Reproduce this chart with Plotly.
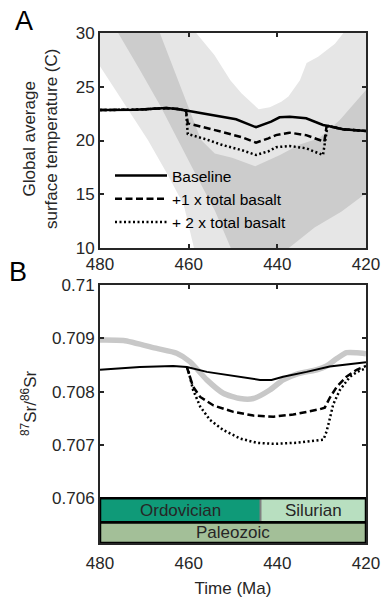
import plotly.graph_objects as go

# ---------------- Panel A data ----------------
# light grey envelope (upper / lower bounds), temperature in C
light_up_t = [480, 470, 462, 458.3, 454.2, 450.6, 448.1, 444.2, 441.7, 439.1, 437.5, 434.9, 433.4, 430.8, 427.0, 425.1, 420]
light_up_T = [45, 38, 32.5, 30.0, 27.95, 25.6, 24.4, 22.9, 23.1, 23.6, 24.1, 25.6, 27.2, 27.8, 29.0, 30.0, 33.0]
light_lo_t = [480, 474.4, 469.2, 464.7, 461.1, 458.8, 455, 440, 420]
light_lo_T = [26.9, 23.3, 20.05, 16.8, 14.0, 10.0, 5.0, 4.0, 4.0]
# dark grey envelope
dark_up_t = [480, 470, 466.5, 464.2, 462.0, 459.7, 457.2, 454.1, 450.2, 445.0, 439.4, 435.1, 430.6, 425.9, 420.0]
dark_up_T = [40, 34, 30.0, 27.5, 25.2, 22.8, 20.05, 18.8, 18.4, 17.6, 18.65, 19.6, 20.2, 21.9, 24.7]
dark_lo_t = [480, 475.9, 471.0, 466.5, 462.4, 458.1, 454.1, 450.5, 445, 440, 437.4, 431.6, 425.5, 420]
dark_lo_T = [33.5, 30.0, 26.56, 23.3, 20.05, 16.6, 13.5, 10.0, 7.0, 8.0, 10.0, 11.9, 13.4, 15.1]

# temperature scenarios
base_t = [480, 476, 472, 468, 465, 462.5, 460.6, 456, 452.3, 449.3, 444.8, 442.5, 441.4, 439.5, 437.2, 433.5, 429.7, 428.5, 425.2, 420]
base_T = [22.84, 22.83, 22.86, 22.95, 23.02, 22.92, 22.78, 22.5, 22.21, 21.97, 21.23, 21.55, 21.75, 22.16, 22.21, 22.07, 21.44, 21.35, 21.04, 20.88]
b1_t = [480, 476, 472, 468, 465, 462.5, 460.6, 460.2, 456, 452, 448, 444.8, 442, 440.3, 437.3, 433.5, 430.5, 429.4, 428.9, 428.5, 425.2, 420]
b1_T = [22.84, 22.83, 22.86, 22.95, 23.02, 22.92, 22.78, 21.6, 21.2, 20.75, 20.3, 19.8, 20.2, 20.5, 20.73, 20.5, 20.05, 19.89, 21.3, 21.35, 21.04, 20.88]
b2_t = [480, 476, 472, 468, 465, 462.5, 460.6, 460.2, 456, 452.4, 448, 444.8, 442, 440.3, 437.3, 433.5, 430.1, 429.7, 428.7, 428.5, 425.2, 420]
b2_T = [22.84, 22.83, 22.86, 22.95, 23.02, 22.92, 22.78, 20.6, 20.1, 19.58, 19.1, 18.65, 19.0, 19.37, 19.49, 19.27, 18.74, 18.65, 21.3, 21.35, 21.04, 20.88]

# ---------------- Panel B data ----------------
obs_t = [480, 474.7, 467.2, 462.7, 459.7, 455.9, 452.2, 448.4, 445.4, 441.7, 438.7, 435.6, 431.1, 428.9, 426.6, 424.4, 422.1, 420]
obs_sr = [0.70897, 0.70896, 0.70881, 0.70872, 0.70856, 0.70822, 0.70797, 0.70787, 0.70787, 0.70803, 0.70822, 0.70833, 0.70841, 0.70848, 0.70862, 0.70873, 0.70873, 0.70871]
sr_base_t = [480, 471, 463.5, 460.4, 455.9, 448.4, 443.9, 441.3, 438.7, 433.4, 428.2, 420]
sr_base = [0.70841, 0.70846, 0.70848, 0.70846, 0.70837, 0.70828, 0.70822, 0.70822, 0.70828, 0.70837, 0.70847, 0.70855]
sr_b1_t = [460.4, 460.0, 459.0, 457.4, 454.4, 449.9, 445.4, 440.9, 436.4, 430.4, 429.3, 428.2, 426.6, 424.4, 422.1, 420]
sr_b1 = [0.70846, 0.70835, 0.70809, 0.70790, 0.70774, 0.70762, 0.70755, 0.70753, 0.70757, 0.70767, 0.70770, 0.70788, 0.70809, 0.70828, 0.70841, 0.70848]
sr_b2_t = [460.4, 460.0, 459.0, 457.4, 455.2, 452.2, 448.4, 444.7, 440.9, 435.6, 429.6, 428.9, 428.2, 427.4, 425.9, 423.6, 422.0, 420]
sr_b2 = [0.70846, 0.70837, 0.70803, 0.70772, 0.70747, 0.70728, 0.70712, 0.70704, 0.70702, 0.70704, 0.70710, 0.70725, 0.70748, 0.70776, 0.70803, 0.70828, 0.70837, 0.70844]

# geologic time scale
period_names = ["Ordovician", "Silurian"]
period_start = [480, 443.8]
period_end = [443.8, 420]
period_colors = ["#0f9a78", "#b8dfc0"]
era_name = "Paleozoic"
era_color = "#a3bf98"
row1 = [0.706, 0.70555]
row2 = [0.70555, 0.70516]

A_ticks = [10, 15, 20, 25, 30]
B_ticks = [0.706, 0.707, 0.708, 0.709, 0.710]
B_ticktext = ["0.706", "0.707", "0.708", "0.709", "0.71"]
x_ticks = [480, 460, 440, 420]

W, H = 387, 598
FONT = "Liberation Sans, Arial, sans-serif"
AX = "#262626"

fig = go.Figure()

def poly(t_up, v_up, t_lo, v_lo):
    return list(t_up) + list(t_lo)[::-1], list(v_up) + list(v_lo)[::-1]

px_, py_ = poly(light_up_t, light_up_T, light_lo_t, light_lo_T)
fig.add_trace(go.Scatter(x=px_, y=py_, fill="toself", fillcolor="#e6e6e6", line=dict(width=0),
                         mode="lines", showlegend=False, hoverinfo="skip", xaxis="x", yaxis="y"))
px_, py_ = poly(dark_up_t, dark_up_T, dark_lo_t, dark_lo_T)
fig.add_trace(go.Scatter(x=px_, y=py_, fill="toself", fillcolor="#cccccc", line=dict(width=0),
                         mode="lines", showlegend=False, hoverinfo="skip", xaxis="x", yaxis="y"))

fig.add_trace(go.Scatter(x=b2_t, y=b2_T, mode="lines", name="+ 2 x total basalt", legendrank=3,
                         line=dict(color="black", width=2.5, dash="2px,2.5px"), xaxis="x", yaxis="y"))
fig.add_trace(go.Scatter(x=b1_t, y=b1_T, mode="lines", name="+1 x total basalt", legendrank=2,
                         line=dict(color="black", width=2.5, dash="7px,3.5px"), xaxis="x", yaxis="y"))
fig.add_trace(go.Scatter(x=base_t, y=base_T, mode="lines", name="Baseline", legendrank=1,
                         line=dict(color="black", width=2.5), xaxis="x", yaxis="y"))

# Panel B
fig.add_trace(go.Scatter(x=obs_t, y=obs_sr, mode="lines", line=dict(color="#c8c8c8", width=5.5, shape="spline", smoothing=0.6),
                         showlegend=False, xaxis="x2", yaxis="y2"))
fig.add_trace(go.Scatter(x=sr_b2_t, y=sr_b2, mode="lines", line=dict(color="black", width=2.5, dash="2px,2.5px"),
                         showlegend=False, xaxis="x2", yaxis="y2"))
fig.add_trace(go.Scatter(x=sr_b1_t, y=sr_b1, mode="lines", line=dict(color="black", width=2.5, dash="7px,3.5px"),
                         showlegend=False, xaxis="x2", yaxis="y2"))
fig.add_trace(go.Scatter(x=sr_base_t, y=sr_base, mode="lines", line=dict(color="black", width=2),
                         showlegend=False, xaxis="x2", yaxis="y2"))

shapes = []
annotations = []
for name, s, e, c in zip(period_names, period_start, period_end, period_colors):
    shapes.append(dict(type="rect", xref="x2", yref="y2", x0=s, x1=e, y0=row1[0], y1=row1[1],
                       fillcolor=c, line=dict(width=0), layer="above"))
    annotations.append(dict(xref="x2", yref="y2", x=(s + e) / 2, y=(row1[0] + row1[1]) / 2, text=name,
                            xanchor="center", yanchor="middle",
                            showarrow=False, font=dict(family=FONT, size=17, color="#262626")))
shapes.append(dict(type="rect", xref="x2", yref="y2", x0=period_start[0], x1=period_end[-1], y0=row2[0], y1=row2[1],
                   fillcolor=era_color, line=dict(width=0), layer="above"))
annotations.append(dict(xref="x2", yref="y2", x=(period_start[0] + period_end[-1]) / 2, y=(row2[0] + row2[1]) / 2,
                        text=era_name, xanchor="center", yanchor="middle",
                        showarrow=False, font=dict(family=FONT, size=17, color="#262626")))
# divider between periods
shapes.append(dict(type="line", xref="x2", yref="y2", x0=period_end[0], x1=period_end[0], y0=row1[0], y1=row1[1],
                   line=dict(color="#808080", width=2), layer="above"))
# borders
for y0, y1 in (row1, row2):
    shapes.append(dict(type="rect", xref="x2", yref="y2", x0=period_start[0], x1=period_end[-1], y0=y0, y1=y1,
                       fillcolor="rgba(0,0,0,0)", line=dict(color="black", width=2.5), layer="above"))

annotations += [
    dict(xref="paper", yref="paper", x=24 / W, y=1 - 21 / H, text="A", showarrow=False,
         xanchor="center", yanchor="middle", font=dict(family=FONT, size=27, color="black")),
    dict(xref="paper", yref="paper", x=18 / W, y=1 - 272 / H, text="B", showarrow=False,
         xanchor="center", yanchor="middle", font=dict(family=FONT, size=27, color="black")),
    dict(xref="paper", yref="paper", x=41 / W, y=1 - 139 / H, text="Global average<br>surface temperature (C)",
         textangle=-90, showarrow=False, xanchor="center", yanchor="middle",
         font=dict(family=FONT, size=17, color=AX)),
    dict(xref="paper", yref="paper", x=29 / W, y=1 - 403 / H, text="<sup>87</sup>Sr/<sup>86</sup>Sr",
         textangle=-90, showarrow=False, xanchor="center", yanchor="middle",
         font=dict(family=FONT, size=17, color=AX)),
]

xdom = [100 / W, 366 / W]
axcommon = dict(showline=True, linecolor=AX, linewidth=2, mirror="ticks", ticks="inside", ticklen=4,
                tickwidth=1.5, tickcolor=AX, showgrid=False, zeroline=False, automargin=False,
                tickfont=dict(family=FONT, size=17, color=AX))

fig.update_layout(
    width=W, height=H, margin=dict(l=0, r=0, t=0, b=0, pad=0), autosize=False,
    paper_bgcolor="white", plot_bgcolor="white",
    font=dict(family=FONT, size=17, color=AX),
    xaxis=dict(domain=xdom, range=[480, 420], tickvals=x_ticks, anchor="y", **axcommon),
    yaxis=dict(domain=[1 - 248 / H, 1 - 33 / H], range=[10, 30], tickvals=A_ticks, anchor="x", **axcommon),
    xaxis2=dict(domain=xdom, range=[480, 420], tickvals=x_ticks, anchor="y2", ticklabelstandoff=4,
                title=dict(text="Time (Ma)", font=dict(family=FONT, size=17, color=AX), standoff=10), **axcommon),
    yaxis2=dict(domain=[1 - 543 / H, 1 - 285 / H], range=[0.70516, 0.710], tickvals=B_ticks, ticktext=B_ticktext,
                anchor="x2", **axcommon),
    legend=dict(x=110 / W, y=1 - 159 / H, xanchor="left", yanchor="top", bgcolor="rgba(0,0,0,0)",
                font=dict(family=FONT, size=15.5, color="black"), itemwidth=52, tracegroupgap=0),
    shapes=shapes, annotations=annotations,
)

fig.write_html("out.html")
